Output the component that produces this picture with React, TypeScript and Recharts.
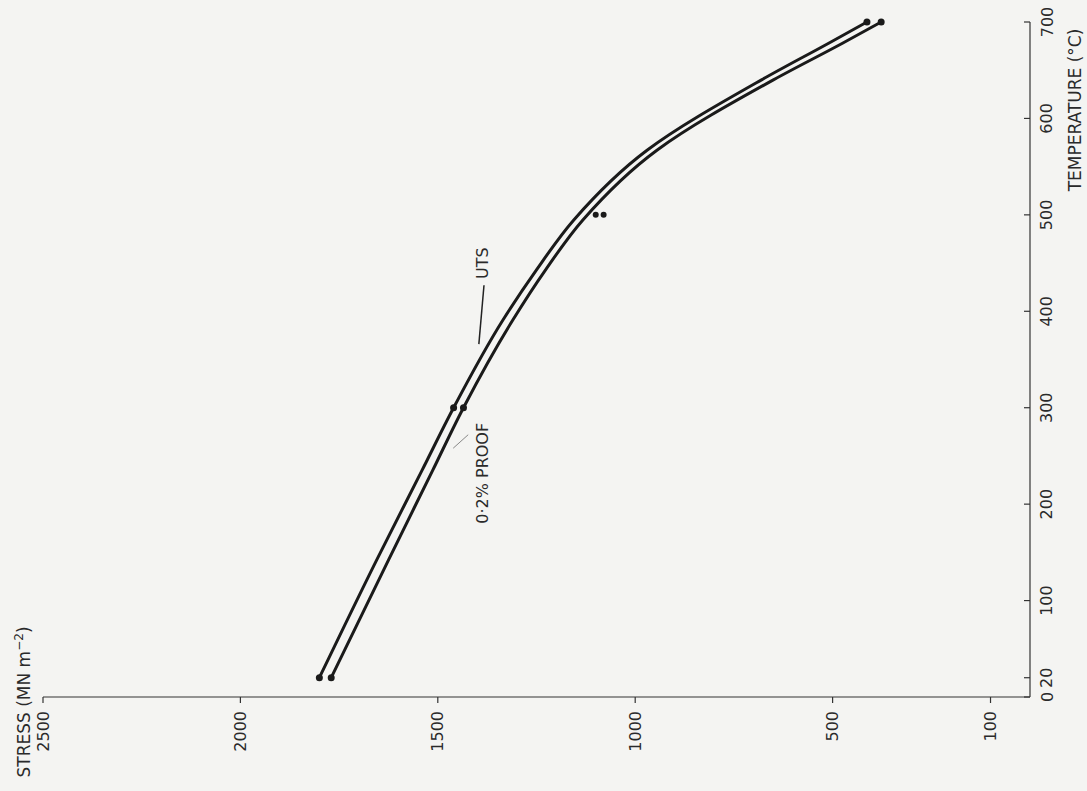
import { LineChart, Line, XAxis, YAxis, ReferenceLine, ReferenceDot } from "recharts";

// stress axis (MN m-2), drawn reversed along the bottom
const stressTicks = [100, 500, 1000, 1500, 2000, 2500];
// temperature axis (°C), on the right
const tempTicks = [0, 20, 100, 200, 300, 400, 500, 600, 700];

// curves
const curveTemps = [20, 142, 235, 300, 391, 443, 495, 567, 640, 678, 700];
const utsStress = [1800, 1655, 1540, 1460, 1335, 1250, 1155, 970, 680, 510, 413];
const proofStress = [1770, 1625, 1513, 1435, 1310, 1227, 1132, 945, 650, 475, 377];

// test temperatures that carry a dot on the curves
const testedTemps = [20, 300, 700];

// the two stray points measured at 500 °C
const extraTemps = [500, 500];
const extraStress = [1100, 1080];

const utsData = curveTemps.map((t, i) => ({ temp: t, stress: utsStress[i] }));
const proofData = curveTemps.map((t, i) => ({ temp: t, stress: proofStress[i] }));
const extraData = extraTemps.map((t, i) => ({ temp: t, stress: extraStress[i] }));

const FONT = "'DejaVu Sans', 'Liberation Sans', sans-serif";
const INK = "#1a1a1a";
const PAPER = "#f4f4f2";

const renderDot = (props: any) => {
  const { cx, cy, payload, index } = props;
  if (!testedTemps.includes(payload.temp)) return <g key={index} />;
  return <circle key={index} cx={cx} cy={cy} r={3.5} fill={INK} />;
};

const StressTick = ({ x, y, payload }: any) => (
  <text
    x={x}
    y={y}
    transform={`rotate(-90 ${x} ${y})`}
    textAnchor="end"
    dominantBaseline="central"
    fontSize={16}
    fontFamily={FONT}
    fill="#2a2a2a"
  >
    {payload.value}
  </text>
);

const TempTick = ({ x, y, payload }: any) => (
  <g>
    <line x1={x - 6} y1={y} x2={x} y2={y} stroke="#333" strokeWidth={1.2} />
    <text
      x={x + 17}
      y={y}
      transform={`rotate(-90 ${x + 17} ${y})`}
      textAnchor="middle"
      dominantBaseline="central"
      fontSize={16}
      fontFamily={FONT}
      fill="#2a2a2a"
    >
      {payload.value}
    </text>
  </g>
);

const rotatedLabel = (text: string, size: number, color: string) => (p: any) => (
  <text
    x={p.cx}
    y={p.cy}
    transform={`rotate(-90 ${p.cx} ${p.cy})`}
    textAnchor="middle"
    dominantBaseline="central"
    fontSize={size}
    fontFamily={FONT}
    fill={color}
  >
    {text}
  </text>
);

const titleStyle: any = {
  position: "absolute",
  transform: "translate(-50%, -50%) rotate(-90deg)",
  whiteSpace: "nowrap",
  fontFamily: FONT,
  fontSize: 17,
  color: "#2a2a2a",
};

export default function App() {
  return (
    <div
      style={{
        position: "absolute",
        left: 0,
        top: 0,
        width: 1087,
        height: 791,
        background: PAPER,
        overflow: "hidden",
      }}
    >
      <LineChart
        width={1087}
        height={791}
        layout="vertical"
        margin={{ top: 22, right: 17, bottom: 34, left: 43 }}
      >
        <XAxis
          type="number"
          dataKey="stress"
          domain={[0, 2500]}
          ticks={stressTicks}
          reversed
          height={60}
          stroke="#333"
          strokeWidth={1.2}
          tickSize={6}
          tickMargin={8}
          tick={<StressTick />}
        />
        <YAxis
          type="number"
          dataKey="temp"
          orientation="right"
          domain={[0, 700]}
          ticks={tempTicks}
          reversed
          interval={0}
          width={40}
          stroke="#333"
          strokeWidth={1.2}
          tickSize={0}
          tickMargin={0}
          tickLine={false}
          tick={<TempTick />}
        />
        <Line
          data={utsData}
          dataKey="stress"
          type="monotone"
          stroke={INK}
          strokeWidth={3}
          dot={renderDot}
          activeDot={false}
          isAnimationActive={false}
        />
        <Line
          data={proofData}
          dataKey="stress"
          type="monotone"
          stroke={INK}
          strokeWidth={3}
          dot={renderDot}
          activeDot={false}
          isAnimationActive={false}
        />
        <Line
          data={extraData}
          dataKey="stress"
          stroke="none"
          dot={{ r: 3, fill: INK, stroke: "none" }}
          activeDot={false}
          isAnimationActive={false}
        />
        {/* label leaders */}
        <ReferenceLine
          segment={[
            { x: 1383, y: 427 },
            { x: 1396, y: 366 },
          ]}
          stroke="#222"
          strokeWidth={1.5}
        />
        <ReferenceLine
          segment={[
            { x: 1461, y: 258 },
            { x: 1423, y: 272 },
          ]}
          stroke="#888"
          strokeWidth={1}
        />
        <ReferenceDot x={1386} y={450} r={0} shape={rotatedLabel("UTS", 16, "#2a2a2a")} />
        <ReferenceDot x={1388} y={232} r={0} shape={rotatedLabel("0·2% PROOF", 16, "#2a2a2a")} />
      </LineChart>
      <div style={{ ...titleStyle, left: 23, top: 702 }}>
        STRESS (MN m<sup style={{ fontSize: 12 }}>−2</sup>)
      </div>
      <div style={{ ...titleStyle, left: 1075, top: 110 }}>TEMPERATURE (°C)</div>
    </div>
  );
}
